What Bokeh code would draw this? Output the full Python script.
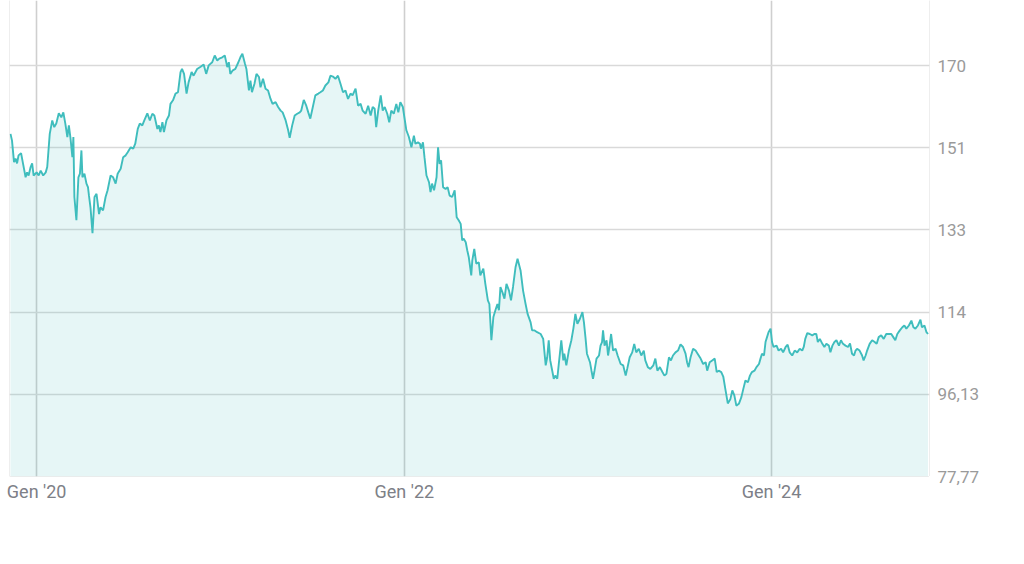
import pandas as pd
from bokeh.plotting import figure
from bokeh.models import Range1d, FixedTicker, Span
from bokeh.embed import file_html
from bokeh.resources import INLINE

# ---------------- data ----------------
start_date = "2019-11-08"
end_date = "2024-11-10"

# days since start_date
days = [
    2, 5, 9, 12, 15, 18, 23, 27, 32, 35,
    38, 42, 45, 48, 54, 58, 62, 67, 72, 75,
    80, 85, 89, 93, 98, 103, 107, 111, 115, 118,
    121, 125, 127, 129, 133, 137, 140, 143, 145, 149,
    153, 156, 158, 161, 165, 169, 173, 178, 181, 186,
    191, 195, 201, 206, 211, 215, 221, 226, 231, 235,
    241, 246, 250, 255, 259, 264, 268, 274, 279, 284,
    288, 294, 297, 300, 304, 307, 312, 317, 320, 325,
    330, 335, 340, 343, 347, 352, 356, 362, 366, 373,
    380, 386, 391, 396, 403, 408, 413, 417, 423, 428,
    433, 436, 439, 444, 449, 455, 459, 463, 468, 471,
    476, 479, 482, 487, 491, 496, 499, 504, 509, 514,
    519, 523, 529, 534, 539, 543, 549, 554, 557, 562,
    567, 572, 577, 580, 585, 590, 594, 598, 603, 608,
    614, 618, 623, 628, 634, 638, 643, 648, 653, 658,
    663, 668, 673, 678, 682, 688, 693, 698, 702, 708,
    713, 718, 722, 726, 729, 733, 738, 742, 746, 751,
    755, 759, 764, 769, 773, 777, 782, 786, 789, 794,
    799, 804, 807, 812, 816, 818, 822, 825, 829, 834,
    837, 840, 844, 849, 852, 855, 858, 862, 867, 871,
    875, 880, 885, 889, 893, 897, 900, 903, 907, 910,
    913, 918, 920, 924, 928, 933, 936, 942, 946, 951,
    954, 958, 962, 966, 970, 973, 976, 980, 984, 988,
    993, 997, 1001, 1006, 1010, 1016, 1021, 1026, 1030, 1036,
    1039, 1044, 1049, 1056, 1061, 1066, 1069, 1072, 1075, 1079,
    1082, 1085, 1089, 1092, 1097, 1101, 1103, 1107, 1112, 1117,
    1121, 1125, 1129, 1134, 1139, 1142, 1145, 1148, 1154, 1157,
    1160, 1163, 1167, 1172, 1175, 1178, 1180, 1183, 1187, 1190,
    1193, 1196, 1200, 1205, 1209, 1215, 1220, 1225, 1228, 1233,
    1238, 1242, 1246, 1251, 1256, 1261, 1264, 1269, 1274, 1280,
    1284, 1288, 1293, 1298, 1302, 1306, 1311, 1315, 1319, 1324,
    1329, 1334, 1339, 1344, 1347, 1350, 1354, 1359, 1364, 1368,
    1374, 1379, 1384, 1387, 1392, 1397, 1402, 1406, 1410, 1415,
    1419, 1423, 1428, 1433, 1437, 1441, 1445, 1450, 1455, 1459,
    1463, 1468, 1472, 1476, 1481, 1485, 1490, 1493, 1496, 1500,
    1503, 1506, 1509, 1513, 1516, 1519, 1525, 1529, 1534, 1538,
    1543, 1547, 1551, 1556, 1561, 1566, 1571, 1576, 1579, 1582,
    1586, 1591, 1596, 1600, 1604, 1607, 1611, 1616, 1620, 1624,
    1629, 1632, 1636, 1640, 1644, 1649, 1653, 1657, 1662, 1667,
    1671, 1675, 1679, 1682, 1685, 1690, 1695, 1698, 1702, 1705,
    1710, 1715, 1720, 1724, 1728, 1733, 1738, 1743, 1748, 1753,
    1757, 1761, 1765, 1770, 1775, 1779, 1783, 1788, 1793, 1797,
    1801, 1806, 1811, 1814, 1819, 1823, 1826,
]

prices = [
    154.3, 152.8, 148.0, 148.8, 147.7, 149.5, 150.0, 147.6, 144.6, 145.7,
    145.0, 146.9, 147.7, 145.0, 145.7, 145.0, 146.1, 145.0, 145.7, 146.9,
    154.3, 157.3, 155.8, 156.6, 158.9, 158.0, 159.1, 156.6, 153.6, 156.2,
    153.6, 149.1, 153.6, 140.2, 135.0, 144.6, 145.4, 150.6, 144.6, 145.4,
    143.2, 142.4, 140.5, 137.9, 132.1, 140.2, 140.9, 136.4, 137.9, 137.2,
    140.2, 141.7, 145.0, 144.6, 143.2, 145.4, 146.5, 149.1, 149.5, 150.2,
    151.3, 151.0, 152.1, 155.4, 156.6, 156.2, 157.3, 158.9, 157.3, 158.8,
    158.4, 155.4, 156.2, 154.7, 156.9, 154.7, 157.3, 158.4, 161.0, 161.8,
    163.3, 163.6, 168.1, 168.8, 167.7, 163.3, 165.8, 168.1, 167.3, 168.8,
    169.3, 169.8, 167.7, 169.6, 170.3, 171.8, 170.7, 171.1, 171.4, 171.8,
    169.2, 170.3, 167.7, 168.5, 168.8, 170.3, 171.4, 172.2, 170.0, 168.8,
    164.0, 166.2, 163.6, 165.5, 167.7, 167.0, 164.7, 166.6, 164.4, 164.0,
    162.1, 161.0, 161.4, 160.3, 159.5, 159.1, 157.3, 155.1, 153.4, 156.2,
    158.4, 158.8, 159.1, 159.5, 161.9, 160.6, 159.1, 157.7, 160.3, 162.9,
    163.3, 163.6, 164.0, 165.1, 165.8, 167.3, 167.1, 166.6, 167.3, 165.5,
    163.6, 164.0, 162.1, 163.3, 162.9, 164.4, 160.6, 161.0, 159.5, 158.8,
    160.6, 158.4, 160.3, 159.9, 155.8, 159.5, 162.9, 159.5, 160.3, 158.8,
    156.9, 159.5, 158.8, 161.0, 159.1, 161.4, 160.3, 157.3, 155.1, 153.6,
    151.3, 153.9, 152.1, 152.4, 152.1, 151.0, 152.4, 149.1, 145.0, 143.5,
    141.3, 143.2, 141.7, 144.6, 151.3, 147.6, 148.4, 142.4, 142.0, 142.4,
    140.5, 140.2, 141.7, 135.7, 135.0, 134.2, 130.5, 130.9, 130.1, 128.3,
    126.8, 122.7, 126.0, 128.6, 125.3, 125.6, 122.7, 124.2, 120.8, 117.1,
    116.3, 108.2, 113.4, 114.9, 116.3, 114.9, 120.1, 118.9, 117.5, 120.8,
    119.3, 117.1, 120.1, 124.5, 126.4, 123.8, 119.3, 116.3, 114.1, 112.2,
    110.4, 110.4, 110.0, 109.6, 108.5, 102.6, 104.4, 108.2, 103.7, 101.4,
    99.6, 100.3, 99.6, 102.9, 108.2, 103.7, 105.2, 102.6, 105.9, 108.2,
    110.8, 114.1, 111.9, 113.0, 114.5, 112.2, 108.9, 105.2, 103.3, 101.4,
    99.6, 101.4, 104.1, 104.8, 107.0, 107.8, 110.4, 107.0, 108.2, 104.8,
    107.0, 109.6, 105.9, 106.3, 104.8, 102.9, 102.6, 100.3, 101.8, 104.4,
    105.5, 107.4, 105.5, 106.3, 104.8, 105.9, 103.7, 102.2, 101.8, 102.6,
    104.1, 101.4, 102.2, 101.1, 100.3, 100.7, 104.4, 103.7, 104.8, 105.5,
    105.9, 107.3, 106.7, 105.2, 103.3, 102.2, 104.4, 106.3, 105.9, 105.2,
    104.1, 102.9, 103.3, 101.4, 103.3, 103.7, 104.1, 101.1, 101.4, 101.1,
    100.1, 97.4, 94.1, 95.0, 97.0, 95.9, 93.6, 94.0, 95.5, 97.4,
    99.2, 98.8, 100.3, 101.1, 101.4, 102.2, 102.9, 104.1, 105.2, 104.8,
    107.8, 108.9, 110.0, 110.8, 107.8, 106.7, 107.0, 105.9, 106.3, 105.5,
    106.7, 107.2, 105.5, 104.8, 105.9, 105.5, 106.3, 105.9, 106.7, 108.5,
    109.8, 109.6, 109.3, 109.6, 109.6, 107.8, 108.5, 107.4, 106.7, 107.4,
    107.0, 105.5, 107.0, 107.8, 108.2, 107.0, 108.2, 107.4, 107.0, 106.7,
    107.5, 105.2, 104.8, 105.9, 106.3, 105.9, 104.8, 103.7, 104.8, 105.9,
    107.4, 108.2, 107.8, 107.4, 108.9, 109.3, 108.5, 109.6, 109.6, 109.6,
    108.9, 108.2, 109.6, 110.4, 111.1, 111.5, 110.8, 111.5, 112.6, 111.1,
    110.8, 111.5, 112.8, 111.1, 111.5, 110.0, 109.6,
]

y_ticks = [77.77, 96.13, 114.49, 132.85, 151.21, 169.57]
y_tick_labels = ["77,77", "96,13", "114", "133", "151", "170"]

x_tick_dates = ["2020-01-01", "2022-01-01", "2024-01-01"]
x_tick_labels = ["Gen '20", "Gen '22", "Gen '24"]

# ---------------- build ----------------
start = pd.Timestamp(start_date)
end = pd.Timestamp(end_date)
dates = start + pd.to_timedelta(days, unit="D")
baseline = [y_ticks[0]] * len(prices)

line_color = "#3fbdbd"
FONT = "Roboto"

p = figure(
    width=1008, height=556,
    x_axis_type="datetime", y_axis_location="right",
    x_range=Range1d(start, end), y_range=Range1d(y_ticks[0], 184.09),
    output_backend="svg", toolbar_location=None,
    min_border_left=9, min_border_right=79,
    min_border_top=0, min_border_bottom=80,
    background_fill_color="white", border_fill_color="white",
)
p.outline_line_color = None

p.varea(x=dates, y1=baseline, y2=prices, fill_color=line_color, fill_alpha=0.13)
p.line(x=dates, y=prices, line_color=line_color, line_width=1.9)

# y axis (right)
p.yaxis.ticker = FixedTicker(ticks=y_ticks)
p.yaxis.major_label_overrides = dict(zip(y_ticks, y_tick_labels))
p.yaxis.axis_line_color = None
p.yaxis.major_tick_line_color = None
p.yaxis.minor_tick_line_color = None
p.yaxis.major_tick_out = 0
p.yaxis.major_label_standoff = 8
p.yaxis.major_label_text_align = "left"
p.yaxis.major_label_text_font = FONT
p.yaxis.major_label_text_font_size = "17px"
p.yaxis.major_label_text_color = "#9a9a9a"

# x axis
x_tick_ms = [int(pd.Timestamp(d).value // 10**6) for d in x_tick_dates]
p.xaxis.ticker = FixedTicker(ticks=x_tick_ms)
p.xaxis.major_label_overrides = dict(zip(x_tick_ms, x_tick_labels))
p.xaxis.axis_line_color = None
p.xaxis.major_tick_line_color = None
p.xaxis.minor_tick_line_color = None
p.xaxis.major_tick_out = 0
p.xaxis.major_label_standoff = 4
p.xaxis.major_label_text_font = FONT
p.xaxis.major_label_text_font_size = "18px"
p.xaxis.major_label_text_color = "#7d8087"

# grids
p.ygrid.ticker = FixedTicker(ticks=y_ticks[1:])
p.ygrid.grid_line_color = "#d9d9d9"
p.ygrid.grid_line_width = 1.6
p.xgrid.ticker = FixedTicker(ticks=x_tick_ms)
p.xgrid.grid_line_color = "#cfcfcf"
p.xgrid.grid_line_width = 1.6

# dotted plot border (left, right, bottom)
for loc in (start, end):
    p.add_layout(Span(location=int(loc.value // 10**6), dimension="height",
                      line_color="#bdbdbd", line_width=1, line_dash="1 1"))
p.add_layout(Span(location=y_ticks[0], dimension="width",
                  line_color="#bdbdbd", line_width=1, line_dash="1 1"))

open("out.html", "w").write(file_html(p, INLINE))
